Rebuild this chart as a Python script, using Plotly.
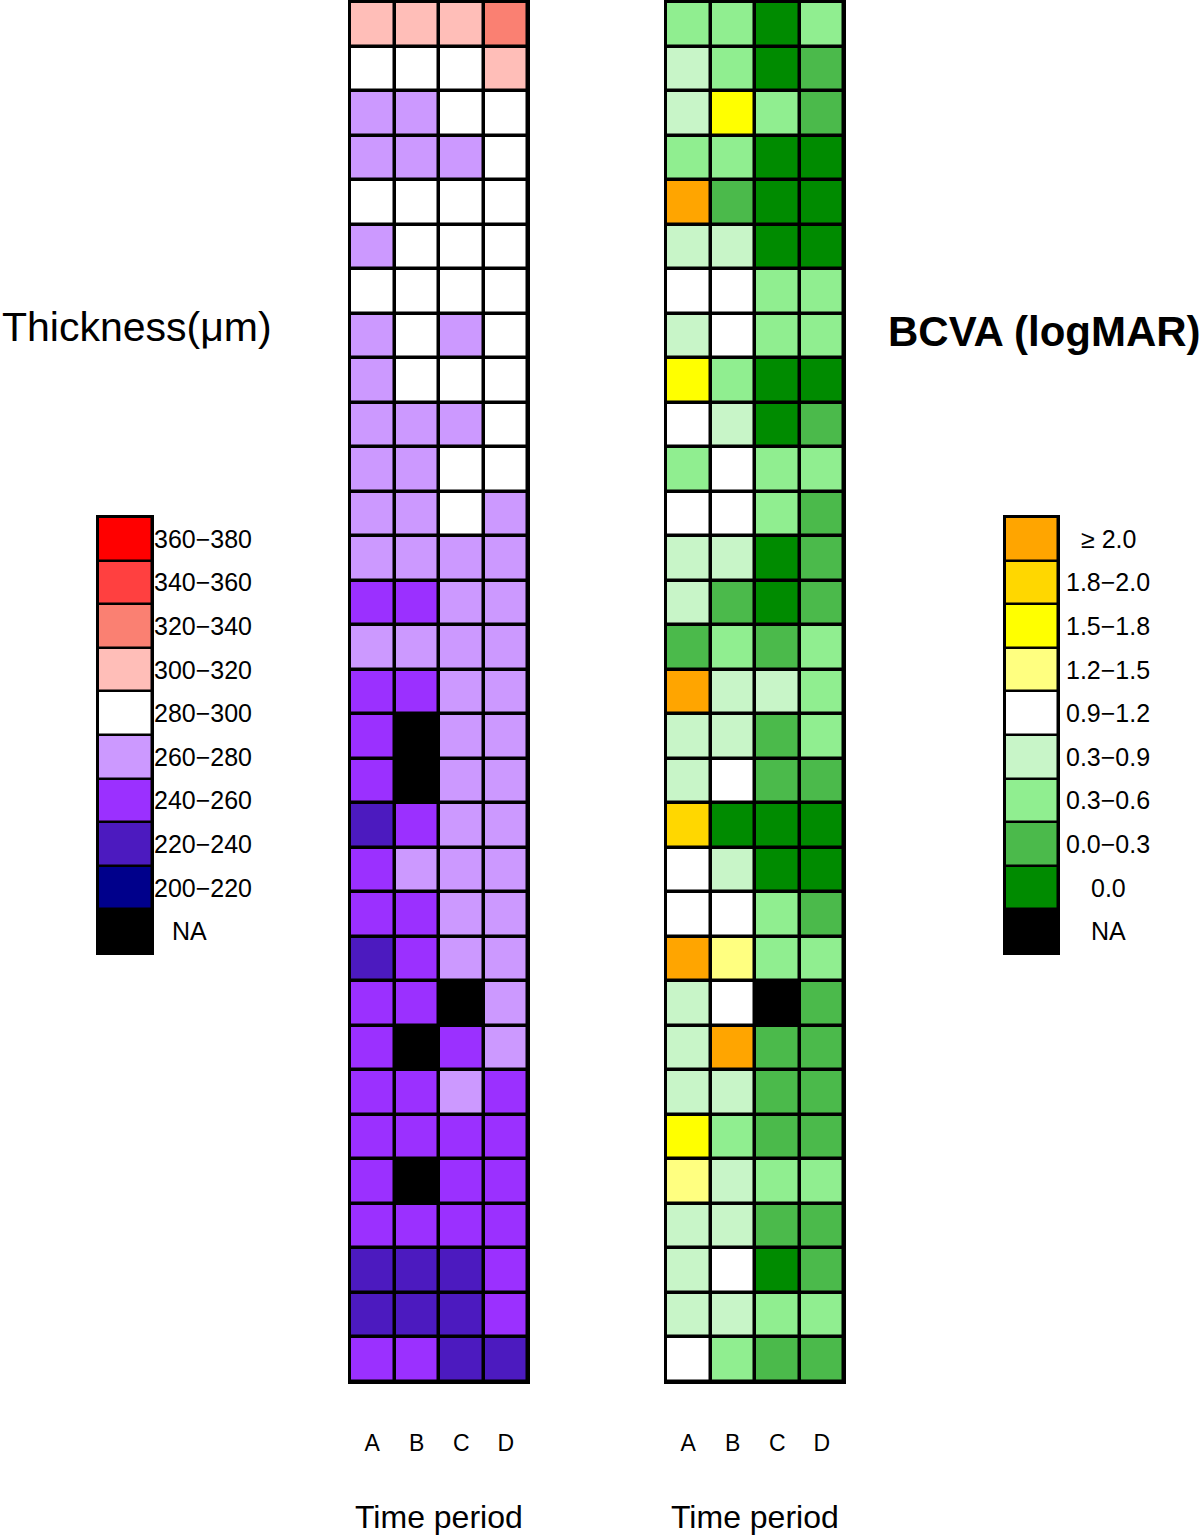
import plotly.graph_objects as go

W, H = 1200, 1538

periods = ["A", "B", "C", "D"]
patients = list(range(1, 32))

# Thickness bins (index 0 = NA)
thick_bins = ["NA", "200−220", "220−240", "240−260", "260−280", "280−300",
              "300−320", "320−340", "340−360", "360−380"]
thick_colors = ["#000000", "#00008B", "#4C1ABF", "#9B30FF", "#CC99FF", "#FFFFFF",
                "#FFBEB8", "#FA8072", "#FF4040", "#FF0000"]

# BCVA bins (index 0 = NA)
bcva_bins = ["NA", "0.0", "0.0−0.3", "0.3−0.6", "0.3−0.9", "0.9−1.2",
             "1.2−1.5", "1.5−1.8", "1.8−2.0", "≥ 2.0"]
bcva_colors = ["#000000", "#008B00", "#4BBA4B", "#90EE90", "#C8F5C8", "#FFFFFF",
               "#FFFF80", "#FFFF00", "#FFD700", "#FFA500"]

# Thickness bin index per patient (row, top to bottom) for each time period
thick_A = [6, 5, 4, 4, 5, 4, 5, 4, 4, 4, 4, 4, 4, 3, 4, 3, 3, 3, 2, 3, 3, 2, 3, 3, 3, 3, 3, 3, 2, 2, 3]
thick_B = [6, 5, 4, 4, 5, 5, 5, 5, 5, 4, 4, 4, 4, 3, 4, 3, 0, 0, 3, 4, 3, 3, 3, 0, 3, 3, 0, 3, 2, 2, 3]
thick_C = [6, 5, 5, 4, 5, 5, 5, 4, 5, 4, 5, 5, 4, 4, 4, 4, 4, 4, 4, 4, 4, 4, 0, 3, 4, 3, 3, 3, 2, 2, 2]
thick_D = [7, 6, 5, 5, 5, 5, 5, 5, 5, 5, 5, 4, 4, 4, 4, 4, 4, 4, 4, 4, 4, 4, 4, 4, 3, 3, 3, 3, 3, 3, 2]

# BCVA bin index per patient for each time period
bcva_A = [3, 4, 4, 3, 9, 4, 5, 4, 7, 5, 3, 5, 4, 4, 2, 9, 4, 4, 8, 5, 5, 9, 4, 4, 4, 7, 6, 4, 4, 4, 5]
bcva_B = [3, 3, 7, 3, 2, 4, 5, 5, 3, 4, 5, 5, 4, 2, 3, 4, 4, 5, 1, 4, 5, 6, 5, 9, 4, 3, 4, 4, 5, 4, 3]
bcva_C = [1, 1, 3, 1, 1, 1, 3, 3, 1, 1, 3, 3, 1, 1, 2, 4, 2, 2, 1, 1, 3, 3, 0, 2, 2, 2, 3, 2, 1, 3, 2]
bcva_D = [3, 2, 2, 1, 1, 1, 3, 3, 1, 2, 3, 2, 2, 2, 3, 3, 3, 2, 1, 1, 2, 3, 2, 2, 2, 2, 3, 2, 2, 3, 2]

FONT = "Liberation Sans, Arial, Helvetica, sans-serif"


def discrete_scale(colors):
    n = len(colors)
    cs = []
    for i, c in enumerate(colors):
        cs.append([i / n, c])
        cs.append([(i + 1) / n, c])
    return cs


def rows(*cols):
    return [list(r) for r in zip(*cols)]


def px_x(x):
    return x / W


def px_y(y):
    return 1 - y / H


fig = go.Figure()

thick_z = rows(thick_A, thick_B, thick_C, thick_D)
bcva_z = rows(bcva_A, bcva_B, bcva_C, bcva_D)

fig.add_trace(go.Heatmap(
    z=thick_z, x=periods, y=patients, colorscale=discrete_scale(thick_colors),
    zmin=-0.5, zmax=len(thick_bins) - 0.5, showscale=False, xgap=3.5, ygap=3.5,
    xaxis="x", yaxis="y", hoverinfo="skip"))
fig.add_trace(go.Heatmap(
    z=bcva_z, x=periods, y=patients, colorscale=discrete_scale(bcva_colors),
    zmin=-0.5, zmax=len(bcva_bins) - 0.5, showscale=False, xgap=3.5, ygap=3.5,
    xaxis="x2", yaxis="y2", hoverinfo="skip"))

# legend swatches (top = highest bin)
leg_idx = list(range(len(thick_bins)))[::-1]
fig.add_trace(go.Heatmap(
    z=[[i] for i in leg_idx], x=[0], y=list(range(len(leg_idx))),
    colorscale=discrete_scale(thick_colors), zmin=-0.5, zmax=len(thick_bins) - 0.5,
    showscale=False, xgap=2.5, ygap=2.5, xaxis="x3", yaxis="y3", hoverinfo="skip"))
fig.add_trace(go.Heatmap(
    z=[[i] for i in leg_idx], x=[0], y=list(range(len(leg_idx))),
    colorscale=discrete_scale(bcva_colors), zmin=-0.5, zmax=len(bcva_bins) - 0.5,
    showscale=False, xgap=2.5, ygap=2.5, xaxis="x4", yaxis="y4", hoverinfo="skip"))

line = dict(showline=True, mirror=True, linewidth=2, linecolor="black",
            showgrid=False, zeroline=False)

heat_y = [px_y(1382), px_y(2)]
leg_y = [px_y(953), px_y(517)]

fig.update_layout(
    width=W, height=H, margin=dict(l=0, r=0, t=0, b=0),
    paper_bgcolor="white", plot_bgcolor="black",
    font=dict(family=FONT, color="black"),
    xaxis=dict(domain=[px_x(350), px_x(528)], ticks="", tickfont=dict(size=23),
               ticklabelstandoff=39, **line),
    yaxis=dict(domain=heat_y, range=[31.5, 0.5], showticklabels=False, ticks="", **line),
    xaxis2=dict(domain=[px_x(666), px_x(844)], ticks="", tickfont=dict(size=23),
                ticklabelstandoff=39, anchor="y2", **line),
    yaxis2=dict(domain=heat_y, range=[31.5, 0.5], showticklabels=False, ticks="",
                anchor="x2", **line),
    xaxis3=dict(domain=[px_x(98), px_x(152)], showticklabels=False, ticks="",
                anchor="y3", **line),
    yaxis3=dict(domain=leg_y, range=[9.5, -0.5], showticklabels=False, ticks="",
                anchor="x3", **line),
    xaxis4=dict(domain=[px_x(1005), px_x(1058)], showticklabels=False, ticks="",
                anchor="y4", **line),
    yaxis4=dict(domain=leg_y, range=[9.5, -0.5], showticklabels=False, ticks="",
                anchor="x4", **line),
)

ann = []
for k, i in enumerate(leg_idx):
    ann.append(dict(xref="paper", yref="y3", x=px_x(170 if i == 0 else 152), y=k,
                    text=thick_bins[i], showarrow=False, xanchor="left",
                    yanchor="middle", font=dict(size=25, family=FONT)))
    ann.append(dict(xref="paper", yref="y4", x=px_x(1108), y=k,
                    text=bcva_bins[i], showarrow=False, xanchor="center",
                    yanchor="middle", font=dict(size=25, family=FONT)))

ann.append(dict(xref="paper", yref="paper", x=0, y=px_y(327), text="Thickness(μm)",
                showarrow=False, xanchor="left", yanchor="middle",
                font=dict(size=41, family=FONT)))
ann.append(dict(xref="paper", yref="paper", x=px_x(886), y=px_y(331),
                text="<b>BCVA (logMAR)</b>", showarrow=False, xanchor="left",
                yanchor="middle", font=dict(size=42, family=FONT)))
for cx in (439, 755):
    ann.append(dict(xref="paper", yref="paper", x=px_x(cx), y=px_y(1517),
                    text="Time period", showarrow=False, xanchor="center",
                    yanchor="middle", font=dict(size=32, family=FONT)))

fig.update_layout(annotations=ann)

fig.write_html("out.html", config={"displayModeBar": False},
               post_script="document.body.style.margin='0px';document.body.style.overflow='hidden';")
